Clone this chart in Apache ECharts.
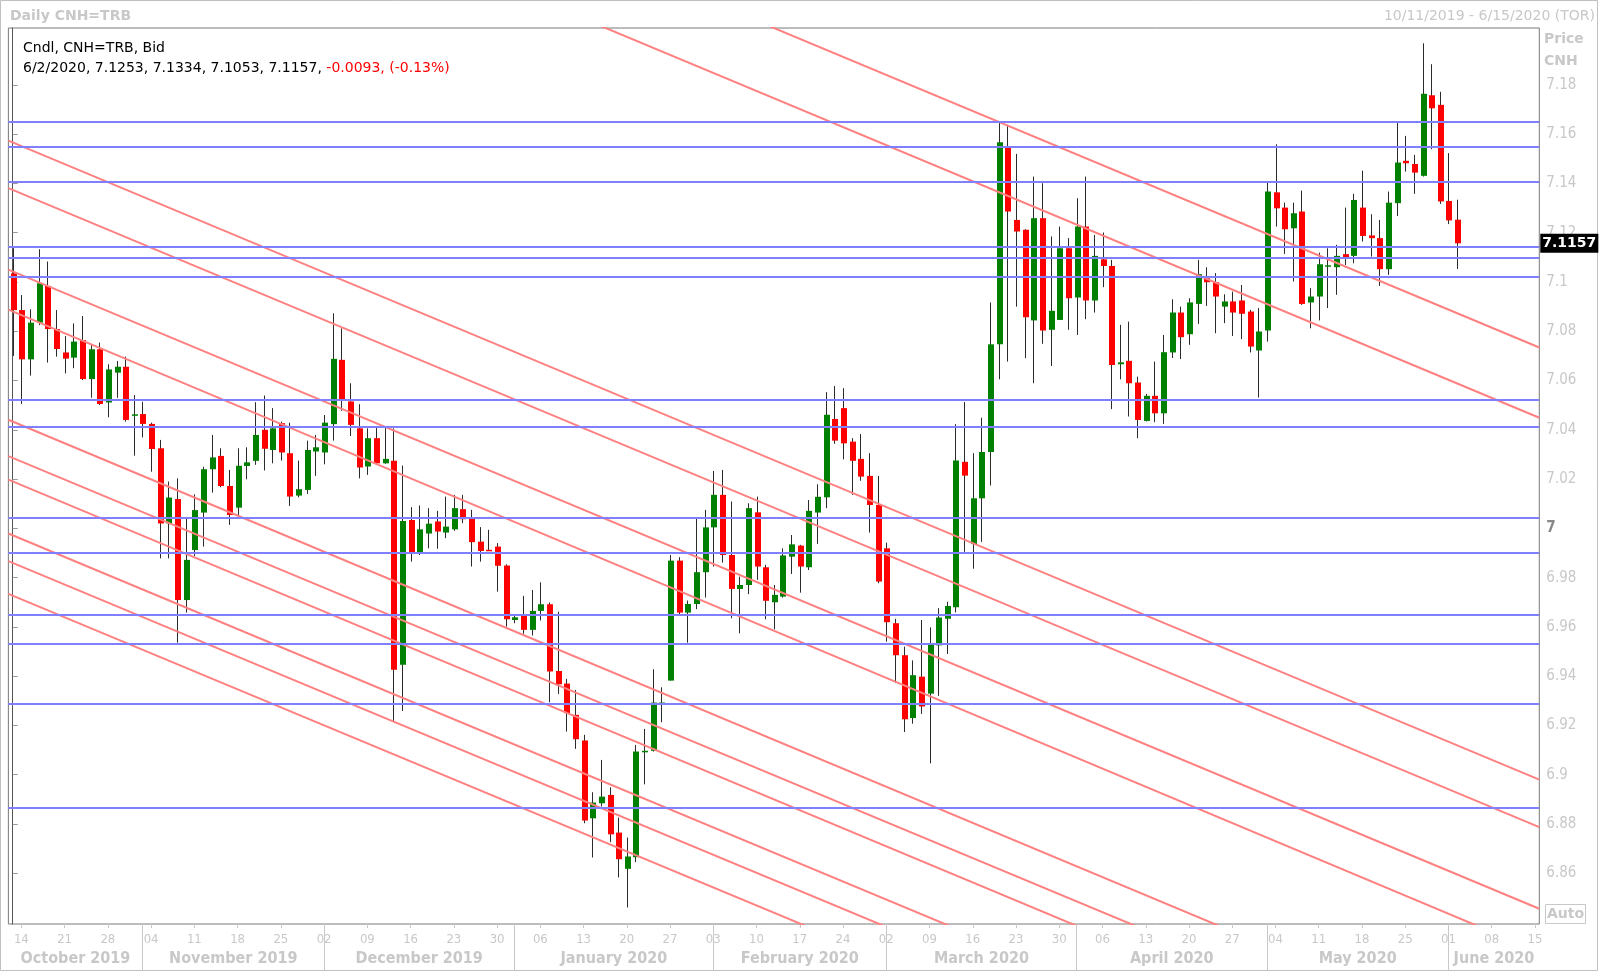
<!DOCTYPE html>
<html>
<head>
<meta charset="utf-8">
<script src="https://cdn.jsdelivr.net/npm/echarts@6.0.0/dist/echarts.min.js"></script>
<style>
html,body{margin:0;padding:0;background:#fff;}
#chart{width:1600px;height:972px;}
</style>
</head>
<body>
<div id="chart"></div>
<script>
// ---------- data ----------
const openV = [7.1035,7.0886,7.0686,7.0835,7.0984,7.0809,7.0714,7.0693,7.0764,7.0606,
7.0727,7.0511,7.0632,7.0656,7.0459,7.0464,7.0424,7.0325,7.0020,7.0119,
6.9709,6.9912,7.0064,7.0240,7.0294,7.0172,7.0084,7.0253,7.0274,7.0400,
7.0318,7.0427,7.0305,7.0133,7.0156,7.0312,7.0308,7.0423,7.0684,7.0515,
7.0406,7.0251,7.0366,7.0264,7.0274,6.9446,7.0034,6.9903,6.9979,7.0028,
6.9983,6.9996,7.0078,7.0040,6.9946,6.9913,6.9926,6.9849,6.9628,6.9645,
6.9588,6.9665,6.9692,6.9421,6.9370,6.9243,6.9139,6.8823,6.8884,6.8918,
6.8765,6.8618,6.8665,6.9091,6.9097,6.9289,6.9382,6.9869,6.9658,6.9693,
6.9822,7.0004,7.0136,6.9892,6.9754,6.9770,7.0065,6.9842,6.9700,6.9723,
6.9885,6.9930,6.9842,7.0064,7.0126,7.0444,7.0488,7.0352,7.0282,7.0213,
7.0095,6.9919,6.9615,6.9485,6.9230,6.9398,6.9329,6.9525,6.9633,6.9680,
7.0270,6.9936,7.0122,7.0310,7.0747,7.1547,7.1252,7.1212,7.0844,7.1259,
7.0806,7.0846,7.1137,7.0937,7.1225,7.0925,7.1092,7.1065,7.0666,7.0680,
7.0592,7.0436,7.0538,7.0467,7.0714,7.0876,7.0788,7.0911,7.1015,7.0999,
7.0900,7.0921,7.0925,7.0880,7.0722,7.0803,7.1364,7.1302,7.1218,7.1286,
7.0917,7.0941,7.1063,7.1060,7.1113,7.1106,7.1302,7.1189,7.1178,7.1052,
7.1320,7.1492,7.1479,7.1431,7.1758,7.1719,7.1329,7.1253];
const highV = [7.1137,7.0947,7.0889,7.1133,7.1083,7.0886,7.0781,7.0832,7.0862,7.0744,
7.0754,7.0666,7.0679,7.0697,7.0541,7.0514,7.0429,7.0359,7.0190,7.0203,
7.0041,7.0138,7.0250,7.0379,7.0325,7.0237,7.0325,7.0329,7.0512,7.0539,
7.0488,7.0433,7.0429,7.0275,7.0356,7.0379,7.0460,7.0873,7.0812,7.0589,
7.0504,7.0406,7.0409,7.0409,7.0406,7.0255,7.0086,7.0093,7.0082,7.0071,
7.0129,7.0136,7.0136,7.0075,7.0005,6.9994,6.9940,6.9854,6.9649,6.9726,
6.9750,6.9781,6.9699,6.9662,6.9389,6.9344,6.9162,6.8929,6.9060,6.8949,
6.8826,6.8745,6.9121,6.9186,6.9428,6.9355,6.9892,6.9883,6.9707,7.0041,
7.0075,7.0233,7.0237,7.0109,6.9804,7.0102,7.0129,6.9852,6.9770,6.9919,
6.9973,6.9933,7.0115,7.0179,7.0553,7.0578,7.0569,7.0366,7.0383,7.0305,
7.0213,6.9942,6.9633,6.9520,6.9464,6.9628,6.9598,6.9676,6.9702,7.0423,
7.0513,7.0305,7.0449,7.0917,7.1646,7.1633,7.1520,7.1214,7.1428,7.1401,
7.1185,7.1225,7.1178,7.1340,7.1428,7.1191,7.1201,7.1090,7.0826,7.0839,
7.0616,7.0546,7.0677,7.0785,7.0930,7.0900,7.0934,7.1090,7.1060,7.1036,
7.0950,7.0961,7.0988,7.0887,7.0894,7.1404,7.1559,7.1322,7.1322,7.1371,
7.0975,7.1119,7.1137,7.1151,7.1302,7.1358,7.1452,7.1275,7.1252,7.1367,
7.1647,7.1593,7.1516,7.1969,7.1884,7.1772,7.1523,7.1334];
const lowV = [7.0700,7.0505,7.0620,7.0825,7.0673,7.0697,7.0629,7.0650,7.0602,7.0530,
7.0501,7.0451,7.0530,7.0433,7.0295,7.0369,7.0230,6.9878,6.9878,6.9536,
6.9658,6.9888,6.9926,7.0145,7.0167,7.0014,7.0054,7.0199,7.0258,7.0235,
7.0264,7.0275,7.0091,7.0126,7.0140,7.0213,7.0260,7.0356,7.0477,7.0375,
7.0203,7.0217,7.0262,7.0262,6.9218,6.9259,6.9865,6.9892,6.9919,6.9917,
6.9960,6.9990,7.0021,6.9845,6.9865,6.9908,6.9743,6.9601,6.9615,6.9572,
6.9565,6.9626,6.9294,6.9328,6.9175,6.9105,6.8803,6.8664,6.8871,6.8726,
6.8583,6.8461,6.8645,6.8961,6.9094,6.9213,6.9382,6.9649,6.9536,6.9672,
6.9719,6.9845,6.9861,6.9635,6.9574,6.9733,6.9791,6.9631,6.9590,6.9719,
6.9815,6.9739,6.9831,6.9937,7.0082,7.0343,7.0280,7.0136,7.0193,6.9983,
6.9777,6.9540,6.9372,6.9173,6.9207,6.9247,6.9046,6.9320,6.9490,6.9659,
6.9905,6.9836,6.9945,7.0174,7.0605,7.0677,7.0900,7.0691,7.0589,7.0749,
7.0659,7.0846,7.0806,7.0785,7.0849,7.0876,7.0979,7.0484,7.0605,7.0454,
7.0366,7.0434,7.0431,7.0424,7.0691,7.0687,7.0745,7.0830,7.0903,7.0792,
7.0833,7.0781,7.0768,7.0714,7.0531,7.0758,7.1225,7.1114,7.1002,7.0907,
7.0812,7.0844,7.0894,7.0948,7.1069,7.1076,7.1164,7.1103,7.0984,7.1029,
7.1268,7.1448,7.1358,7.1428,7.1539,7.1317,7.1235,7.1053];
const closeV = [7.0886,7.0686,7.0835,7.0995,7.0809,7.0728,7.0689,7.0758,7.0606,7.0727,
7.0505,7.0645,7.0656,7.0440,7.0463,7.0424,7.0322,7.0020,7.0125,6.9709,
6.9872,7.0074,7.0240,7.0288,7.0172,7.0054,7.0254,7.0268,7.0379,7.0323,
7.0406,7.0308,7.0129,7.0159,7.0318,7.0329,7.0429,7.0688,7.0525,7.0420,
7.0247,7.0366,7.0264,7.0282,6.9426,7.0030,6.9903,6.9996,7.0019,6.9987,
7.0007,7.0082,7.0037,6.9944,6.9908,6.9910,6.9848,6.9631,6.9639,6.9588,
6.9665,6.9692,6.9419,6.9367,6.9250,6.9144,6.8814,6.8887,6.8911,6.8758,
6.8657,6.8668,6.9094,6.9097,6.9293,6.9293,6.9869,6.9658,6.9693,6.9822,
7.0004,7.0136,6.9892,6.9754,6.9770,7.0082,6.9845,6.9706,6.9730,6.9890,
6.9935,6.9845,7.0071,7.0128,7.0461,7.0356,7.0345,7.0274,7.0210,7.0095,
6.9784,6.9619,6.9485,6.9225,6.9404,6.9277,6.9529,6.9638,6.9685,7.0275,
7.0214,7.0122,7.0310,7.0747,7.1567,7.1286,7.1205,7.0857,7.1259,7.0803,
7.0883,7.1137,7.0934,7.1225,7.0925,7.1106,7.1065,7.0663,7.0674,7.0589,
7.0440,7.0538,7.0467,7.0715,7.0876,7.0776,7.0917,7.1032,7.0999,7.0941,
7.0921,7.0876,7.0871,7.0738,7.0799,7.1367,7.1299,7.1214,7.1279,7.0911,
7.0941,7.1072,7.1068,7.1106,7.1099,7.1333,7.1187,7.1178,7.1052,7.1322,
7.1485,7.1482,7.1444,7.1764,7.1705,7.1327,7.1250,7.1157];

// horizontal support / resistance levels (blue)
const levels = [7.165,7.155,7.1405,7.1142,7.1097,7.1023,7.052,7.0413,7.0045,6.990,6.965,6.9533,6.9286,6.8864];
// parallel trend lines (red): price at left plot edge and at right plot edge
const trendLeft  = [7.3328,7.3043,7.1574,7.1381,7.1050,7.0888,7.0441,7.0293,7.0198,6.9979,6.9867,6.9734];
const trendRight = [7.0734,7.0449,6.8980,6.8787,6.8456,6.8281,6.7843,6.7703,6.7602,6.7388,6.7278,6.7146];

const yTicks = [6.86,6.88,6.9,6.92,6.94,6.96,6.98,7,7.02,7.04,7.06,7.08,7.1,7.12,7.14,7.16,7.18];
const monthNames = ['October 2019','November 2019','December 2019','January 2020','February 2020','March 2020','April 2020','May 2020','June 2020'];
const yMin = 6.8394, yMax = 7.2031;

// weekday categories 10/11/2019 .. 6/15/2020
const categories = [];
(function(){
  let t = Date.UTC(2019,9,11); const end = Date.UTC(2020,5,15);
  while (t <= end) { const d = new Date(t); const wd = d.getUTCDay(); if (wd>0 && wd<6) categories.push(d.toISOString().slice(0,10)); t += 86400000; }
})();
const nCat = categories.length;
const monthStarts = [];
for (let i=1;i<nCat;i++){ if (categories[i].slice(5,7)!==categories[i-1].slice(5,7)) monthStarts.push(i); }
const bounds = [-0.5].concat(monthStarts, [nCat-0.5]);
const monthMids = [];
for (let k=0;k<bounds.length-1;k++) monthMids.push((bounds[k]+bounds[k+1])/2);

const candleData = openV.map((o,i)=>[i,o,closeV[i],lowV[i],highV[i]]);
const isMonday = (idx,val)=> new Date(val+'T00:00:00Z').getUTCDay()===1;

// legend text from last candle
const li = openV.length-1;
const lastDate = (function(s){const p=s.split('-');return (+p[1])+'/'+(+p[2])+'/'+p[0];})(categories[li]);
const chg = closeV[li]-closeV[li-1];
const pct = chg/closeV[li-1]*100;
const legendLine = lastDate+', '+openV[li].toFixed(4)+', '+highV[li].toFixed(4)+', '+lowV[li].toFixed(4)+', '+closeV[li].toFixed(4)+', ';
const legendRed = chg.toFixed(4)+', ('+pct.toFixed(2)+'%)';

const chart = echarts.init(document.getElementById('chart'), null, {renderer:'canvas'});
const GREY = '#c8c8c8';

const series = [];
series.push({
  type:'custom', name:'candles', xAxisIndex:0, yAxisIndex:0, z:2,
  data:candleData, encode:{x:0,y:[1,2,3,4]},
  renderItem:function(params, api){
    const x=api.value(0), o=api.value(1), c=api.value(2), l=api.value(3), h=api.value(4);
    const pO=api.coord([x,o]), pC=api.coord([x,c]), pL=api.coord([x,l]), pH=api.coord([x,h]);
    const band=api.size([1,0])[0];
    const w=Math.max(2, Math.round(band*0.74));
    const xc=Math.round(pO[0])+0.5;
    const top=Math.min(pO[1],pC[1]);
    const hgt=Math.max(1.5, Math.abs(pO[1]-pC[1]));
    return {type:'group', children:[
      {type:'line', shape:{x1:xc,y1:pH[1],x2:xc,y2:pL[1]}, style:{stroke:'#2b2b2b', lineWidth:1}},
      {type:'rect', shape:{x:Math.round(xc-w/2), y:top, width:w, height:hgt}, style:{fill: c>=o ? '#008000' : '#ff0000'}}
    ]};
  }
});
trendLeft.forEach((p,k)=>{
  series.push({type:'line', xAxisIndex:1, yAxisIndex:0, z:3, silent:true, symbol:'none', clip:true,
    data:[[-0.5,p],[nCat-0.5,trendRight[k]]],
    lineStyle:{color:'#ff8080', width:2}});
});
series.push({type:'line', xAxisIndex:1, yAxisIndex:0, z:4, silent:true, data:[],
  markLine:{silent:true, symbol:['none','none'], precision:4, label:{show:false}, animation:false,
    lineStyle:{color:'#8080ff', width:2, type:'solid'},
    emphasis:{disabled:true},
    data:levels.map(v=>({yAxis:v}))}});
series.push({type:'line', xAxisIndex:1, yAxisIndex:0, z:6, silent:true, data:[],
  markLine:{silent:true, symbol:['none','none'], precision:4, animation:false,
    lineStyle:{color:'rgba(0,0,0,0)', width:0},
    emphasis:{disabled:true},
    label:{show:true, position:'end', distance:1, formatter: closeV[li].toFixed(4),
      backgroundColor:'#000', color:'#fff', fontWeight:'bold', fontFamily:'DejaVu Sans', fontSize:14,
      padding:[3,2,2,2]},
    data:[{yAxis:closeV[li]}]}});

chart.setOption({
  animation:false,
  backgroundColor:'#fff',
  grid:{left:8.4, right:60.7, top:28, bottom:48, show:true, borderColor:'#7a7a7a', borderWidth:1, backgroundColor:'#fff'},
  xAxis:[
    {type:'category', data:categories, boundaryGap:true,
      axisLine:{show:false},
      axisTick:{show:true, alignWithLabel:true, interval:isMonday, length:4, lineStyle:{color:GREY}},
      axisLabel:{interval:isMonday, formatter:v=>v.slice(8,10), color:GREY, fontFamily:'DejaVu Sans Condensed', fontSize:13, margin:9},
      splitLine:{show:false}},
    {type:'value', min:-0.5, max:nCat-0.5, position:'bottom',
      axisLine:{show:false}, splitLine:{show:false},
      axisTick:{show:true, customValues:monthStarts, length:46, lineStyle:{color:GREY}},
      axisLabel:{customValues:monthMids, color:GREY, fontWeight:'bold', fontFamily:'DejaVu Sans Condensed', fontSize:16, margin:27,
        formatter:function(v){ const k=monthMids.findIndex(m=>Math.abs(m-v)<1e-6); return k>=0?monthNames[k]:''; }}}
  ],
  yAxis:[{type:'value', position:'right', min:yMin, max:yMax, splitLine:{show:false},
    axisLine:{show:true, lineStyle:{color:'#555'}},
    axisTick:{show:true, customValues:yTicks, length:5, lineStyle:{color:'#999'}},
    axisLabel:{customValues:yTicks, margin:7, color:GREY, fontFamily:'DejaVu Sans Condensed', fontSize:15,
      formatter:function(v){ return Math.abs(v-7)<1e-9 ? '{b|7}' : String(v); },
      rich:{b:{fontWeight:'bold', color:'#888', fontFamily:'DejaVu Sans Condensed', fontSize:15}}}}],
  series:series,
  graphic:[
    {type:'rect', silent:true, z:-1, shape:{x:0.5,y:0.5,width:1597,height:970}, style:{fill:'none', stroke:'#c0c0c0', lineWidth:1}},
    {type:'text', left:10, top:9, style:{text:'Daily CNH=TRB', font:'bold 14px "DejaVu Sans"', fill:GREY}},
    {type:'text', right:5, top:9, style:{text:'10/11/2019 - 6/15/2020 (TOR)', font:'14px "DejaVu Sans"', fill:GREY}},
    {type:'text', left:23, top:41, z:10, style:{text:'Cndl, CNH=TRB, Bid', font:'14px "DejaVu Sans"', fill:'#000'}},
    {type:'text', left:23, top:61, z:10, style:{text:legendLine+'{r|'+legendRed+'}', font:'14px "DejaVu Sans"', fill:'#000',
      rich:{r:{fill:'#ff0000', font:'14px "DejaVu Sans"'}}}},
    {type:'text', left:1544, top:32, style:{text:'Price', font:'bold 14px "DejaVu Sans"', fill:GREY}},
    {type:'text', left:1544, top:54, style:{text:'CNH', font:'bold 14px "DejaVu Sans"', fill:GREY}},
    {type:'rect', silent:true, shape:{x:1545.5,y:904.5,width:40,height:19}, style:{fill:'#fff', stroke:GREY, lineWidth:1}},
    {type:'text', left:1547, top:907, style:{text:'Auto', font:'bold 14px "DejaVu Sans"', fill:GREY}}
  ]
});
</script>
</body>
</html>
